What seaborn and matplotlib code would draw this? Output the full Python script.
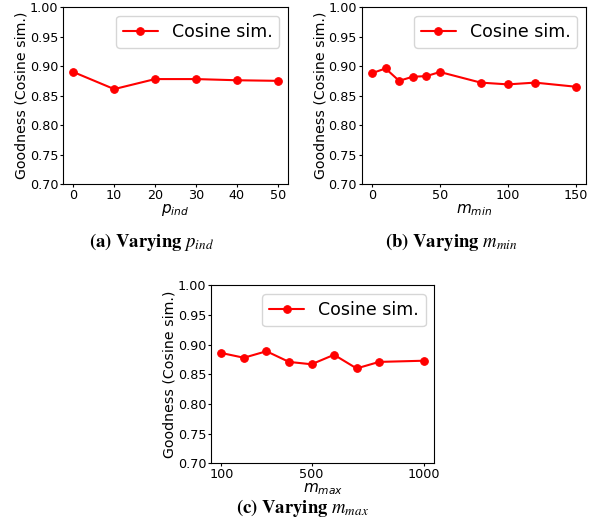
import numpy as np
import pandas as pd
import matplotlib
matplotlib.use("Agg")
import matplotlib.pyplot as plt
import seaborn as sns

# (a) varying p_ind
p_ind = [0, 10, 20, 30, 40, 50]
good_p_ind = [0.890, 0.861, 0.878, 0.878, 0.876, 0.875]

# (b) varying m_min
m_min = [0, 10, 20, 30, 40, 50, 80, 100, 120, 150]
good_m_min = [0.888, 0.896, 0.875, 0.882, 0.883, 0.890, 0.872, 0.869, 0.872, 0.865]

# (c) varying m_max
m_max = [100, 200, 300, 400, 500, 600, 700, 800, 1000]
good_m_max = [0.886, 0.878, 0.889, 0.871, 0.867, 0.883, 0.860, 0.871, 0.873]

yticks = [0.70, 0.75, 0.80, 0.85, 0.90, 0.95, 1.00]

sns.set_style("ticks", rc={"text.color": "black", "axes.labelcolor": "black",
                           "xtick.color": "black", "ytick.color": "black"})
plt.rcParams["mathtext.fontset"] = "dejavusans"

fig = plt.figure(figsize=(5.95, 5.31), dpi=100)

panels = [
    ([0.106, 0.6535, 0.378, 0.333], p_ind, good_p_ind, r"$p_{ind}$", [0, 10, 20, 30, 40, 50],
     r"$\mathbf{(a)\ Varying}\ p_{ind}$", (152, 247)),
    ([0.608, 0.6535, 0.377, 0.333], m_min, good_m_min, r"$m_{min}$", [0, 50, 100, 150],
     r"$\mathbf{(b)\ Varying}\ m_{min}$", (451, 247)),
    ([0.355, 0.1275, 0.375, 0.335], m_max, good_m_max, r"$m_{max}$", [100, 500, 1000],
     r"$\mathbf{(c)\ Varying}\ m_{max}$", (302, 513)),
]

for rect, xs, ys, xlab, xt, caption, (cx, cy) in panels:
    ax = fig.add_axes(rect)
    df = pd.DataFrame({"x": xs, "y": ys})
    sns.lineplot(data=df, x="x", y="y", ax=ax, color="red", marker="o",
                 markersize=5.5, markeredgecolor="red", linewidth=1.5,
                 label="Cosine sim.")
    ax.set_ylim(0.70, 1.00)
    ax.set_yticks(yticks)
    ax.set_yticklabels([f"{t:.2f}" for t in yticks])
    ax.set_xticks(xt)
    ax.tick_params(labelsize=9.2, length=2, width=0.8, pad=1.5)
    ax.set_xlabel(xlab, fontsize=11, labelpad=0)
    ax.set_ylabel("Goodness (Cosine sim.)", fontsize=10.2, labelpad=1)
    for s in ax.spines.values():
        s.set_color("black")
        s.set_linewidth(0.8)
    ax.legend(loc="upper right", fontsize=12.5, frameon=True, fancybox=True,
              handlelength=2.0, borderaxespad=0.5)
    fig.text(cx / 595, 1 - cy / 531, caption, ha="center", va="baseline",
             fontsize=13.5, family="Liberation Serif", math_fontfamily="stix")

fig.savefig("out.png", dpi=100)
